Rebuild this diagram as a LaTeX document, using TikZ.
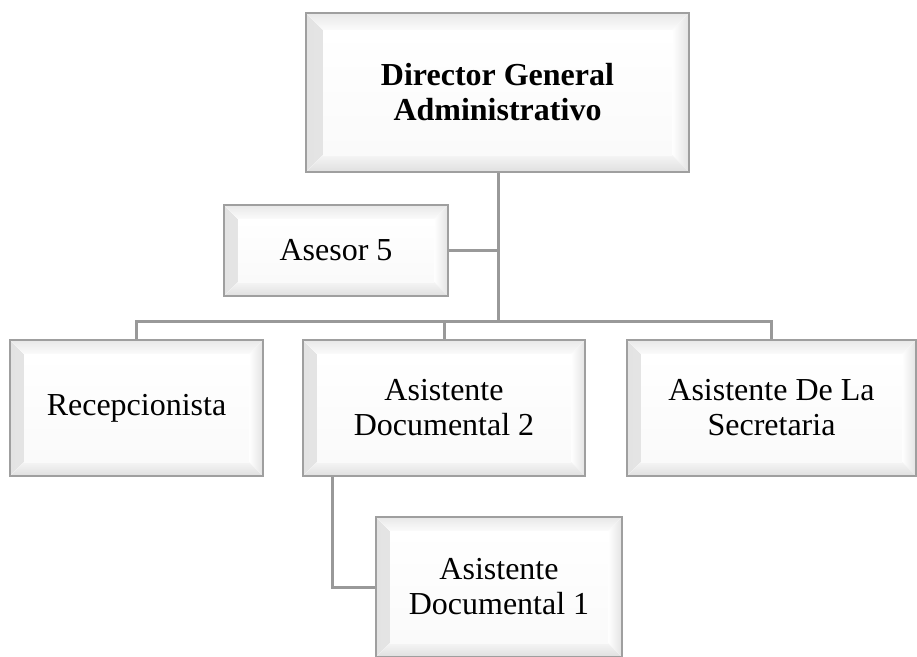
\documentclass[tikz,border=0pt]{standalone}
\usepackage{fontspec}
\setmainfont{Liberation Serif}
\begin{document}
\begin{tikzpicture}[x=1pt,y=-1pt,
  bev/.store in=\bevd, bev=14pt,
  orgbox/.style={rectangle, draw=gray!75, line width=1.6pt, fill=white,
    inner sep=0pt, align=center, font=\fontsize{32}{35}\selectfont,
    path picture={
      \fill[left color=gray!22, right color=white]
        (path picture bounding box.south west) -- (path picture bounding box.north west)
        -- ([shift={(\bevd,-\bevd)}]path picture bounding box.north west)
        -- ([shift={(\bevd,\bevd)}]path picture bounding box.south west) -- cycle;
      \fill[left color=white, right color=gray!22]
        (path picture bounding box.south east) -- (path picture bounding box.north east)
        -- ([shift={(-\bevd,-\bevd)}]path picture bounding box.north east)
        -- ([shift={(-\bevd,\bevd)}]path picture bounding box.south east) -- cycle;
      \fill[top color=gray!18, bottom color=white!97!gray]
        (path picture bounding box.north west) -- (path picture bounding box.north east)
        -- ([shift={(-\bevd,-\bevd)}]path picture bounding box.north east)
        -- ([shift={(\bevd,-\bevd)}]path picture bounding box.north west) -- cycle;
      \fill[top color=gray!8, bottom color=gray!25]
        (path picture bounding box.south west) -- (path picture bounding box.south east)
        -- ([shift={(-\bevd,\bevd)}]path picture bounding box.south east)
        -- ([shift={(\bevd,\bevd)}]path picture bounding box.south west) -- cycle;
      \fill[top color=white, bottom color=white!96!gray]
        ([shift={(\bevd,-\bevd)}]path picture bounding box.north west)
        rectangle ([shift={(-\bevd,\bevd)}]path picture bounding box.south east);
    }},
  link/.style={draw=gray!80, line width=3pt}]
\useasboundingbox (0,0) rectangle (917,656);

% hierarchy boxes
\node[orgbox, bev=17pt, minimum width=383pt, minimum height=159pt, font=\fontsize{32}{35}\selectfont\bfseries]
  (dir) at (497.5,92.5) {Director General\\Administrativo};
\node[orgbox, minimum width=224pt, minimum height=91pt] (ase) at (336,250.5) {Asesor 5};
\node[orgbox, minimum width=253pt, minimum height=136pt] (rec) at (136.5,408) {Recepcionista};
\node[orgbox, minimum width=282pt, minimum height=136pt] (ad2) at (444,408) {Asistente\\Documental 2};
\node[orgbox, minimum width=289pt, minimum height=136pt] (sec) at (771.5,408) {Asistente De La\\Secretaria};
\node[orgbox, minimum width=246pt, minimum height=140pt] (ad1) at (499,587) {Asistente\\Documental 1};

% connectors
\coordinate (bus) at (498,321);
\draw[link] (dir.south -| bus) -- (bus);
\draw[link] (ase.east) -- (ase.east -| bus);
\draw[link] (rec.north) |- (bus) -| (sec.north);
\draw[link] (ad2.north) -- (ad2.north |- bus);
\draw[link] ([xshift=-112pt]ad2.south) |- (ad1.west);
\end{tikzpicture}
\end{document}
